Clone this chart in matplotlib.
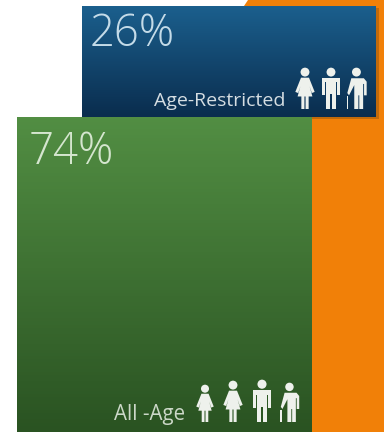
import numpy as np
import matplotlib
matplotlib.use('Agg')
import matplotlib.pyplot as plt
from matplotlib.colors import LinearSegmentedColormap
from matplotlib.patches import Circle, Polygon

# share of each group, bottom box first
groups = ['All -Age', 'Age-Restricted']
shares = [74, 26]
share_labels = ['74%', '26%']
top_colors = ['#528e43', '#1b5f8d']
bottom_colors = ['#2a5322', '#0a2d4e']
box_left = [17, 82]
box_width = [295, 294]
icon_sets = [['woman', 'woman', 'man', 'elder'], ['woman', 'man', 'elder']]

plt.rcParams['font.family'] = ['Open Sans', 'DejaVu Sans']

fig = plt.figure(figsize=(3.84, 4.32), dpi=100)

# page layer in pixels
page = fig.add_axes([0, 0, 1, 1])
page.set_xlim(0, 384)
page.set_ylim(432, 0)
page.axis('off')
page.add_patch(Polygon([(248, 0), (384, 0), (384, 432), (312, 432), (312, 116), (244, 6)],
                       color='#f18008', lw=0))

# box layer, y axis runs in percent
ax = fig.add_axes([0, 0, 1, 426 / 432])
ax.set_xlim(0, 384)
ax.set_ylim(0, 100)
ax.axis('off')
ax.patch.set_alpha(0)

bottom = 0
for i in range(len(shares)):
    cmap = LinearSegmentedColormap.from_list('box', [bottom_colors[i], top_colors[i]])
    if i == 1:
        # soft shadow right of the blue box
        ax.bar(box_left[i] + 3, shares[i], box_width[i], bottom=bottom - 0.5, align='edge',
               color='#7a4a10', alpha=0.4, lw=0, zorder=1)
    bars = ax.bar(box_left[i], shares[i], box_width[i], bottom=bottom, align='edge',
                  color='none', lw=0, zorder=2)
    grad = np.linspace(1, 0, 100).reshape(-1, 1)
    im = ax.imshow(grad, cmap=cmap, aspect='auto', zorder=2 + i * 0.1,
                   extent=(box_left[i], box_left[i] + box_width[i], bottom, bottom + shares[i]))
    im.set_clip_path(bars[0])
    bottom += shares[i]
ax.set_xlim(0, 384)
ax.set_ylim(0, 100)

# text and icon layer in pixels
over = fig.add_axes([0, 0, 1, 1])
over.set_xlim(0, 384)
over.set_ylim(432, 0)
over.axis('off')
over.patch.set_alpha(0)


def person(kind, cx, top, foot, color='#eef1ec'):
    s = (foot - top) / 36
    head_x = cx - 0.5 * s if kind == 'elder' else cx
    over.add_patch(Circle((head_x, top + 3.6 * s), 3.9 * s, color=color, lw=0))
    if kind == 'woman':
        pts = [(-3.5, 8.5), (3.5, 8.5), (8.5, 21), (6, 22), (4, 16), (6.5, 25), (3.2, 25), (3.2, 36),
               (0.5, 36), (0.5, 25), (-0.5, 25), (-0.5, 36), (-3.2, 36), (-3.2, 25), (-6.5, 25),
               (-4, 16), (-6, 22), (-8.5, 21)]
    elif kind == 'man':
        pts = [(-8, 8.5), (8, 8.5), (8, 24), (5.4, 24), (5.4, 12.5), (4.7, 12.5), (4.7, 36), (0.5, 36),
               (0.5, 23), (-0.5, 23), (-0.5, 36), (-4.7, 36), (-4.7, 12.5), (-5.4, 12.5), (-5.4, 24),
               (-8, 24)]
    else:
        pts = [(-5, 9), (6, 9), (8.5, 12), (8.5, 24), (6.2, 24), (6.2, 14), (5.4, 14), (5.4, 36),
               (2, 36), (2, 24), (1.2, 24), (1.2, 36), (-2.4, 36), (-2.4, 15), (-7, 24), (-8.5, 22)]
        # walking stick
        over.add_patch(Polygon([(cx - 9 * s, top + 25 * s), (cx - 7.6 * s, top + 25 * s),
                                (cx - 7.6 * s, top + 36 * s), (cx - 9 * s, top + 36 * s)],
                               color=color, lw=0))
    over.add_patch(Polygon([(cx + x * s, top + y * s) for x, y in pts], color=color, lw=0))


# labels
over.text(90, 46, share_labels[1], fontsize=31.5, color='#c4dbe8', fontweight='light', va='baseline')
over.text(29, 164, share_labels[0], fontsize=31.5, color='#d5e6cf', fontweight='light', va='baseline')
over.text(285, 106, groups[1], fontsize=14, color='#d5dde2', ha='right', va='baseline')
over.text(185, 420, groups[0], fontsize=14.8, color='#ccd8c8', ha='right', va='baseline')

for kind, cx in zip(icon_sets[1], [305, 331, 357]):
    person(kind, cx, 68, 109)
for kind, cx, top in zip(icon_sets[0], [205, 233, 262, 290], [385, 381, 380, 383]):
    person(kind, cx, top, 422)

fig.savefig('out.png', dpi=100)
